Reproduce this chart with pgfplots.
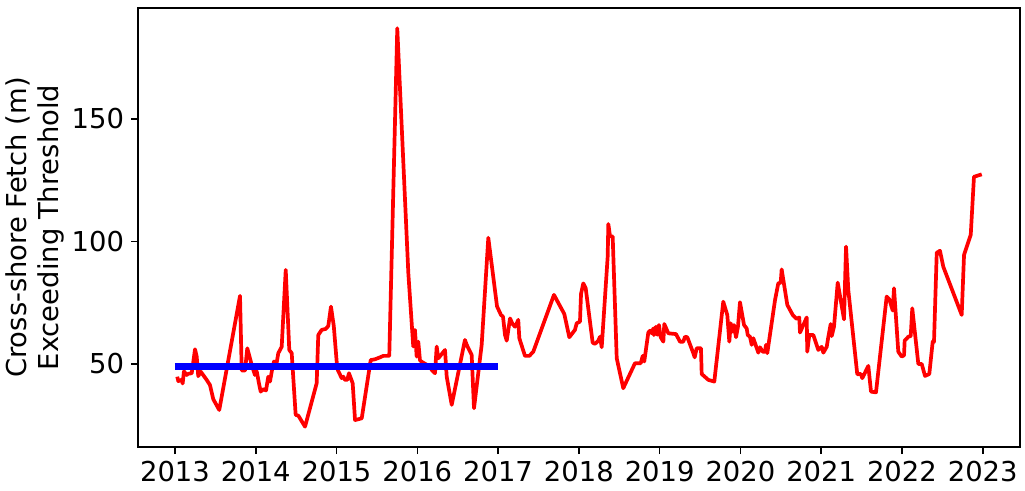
\documentclass[border=0pt]{standalone}
\usepackage{fontspec}
\setmainfont{DejaVu Sans}
\usepackage{pgfplots}
\pgfplotsset{compat=1.18}
\begin{document}
\begin{tikzpicture}
\begin{axis}[
  name=ax,
  at={(0,0)}, anchor=south west,
  scale only axis,
  width=441pt, height=219.5pt,
  xmin=2012.542, xmax=2023.462,
  ymin=16.1, ymax=195.3,
  xtick={2013,2014,2015,2016,2017,2018,2019,2020,2021,2022,2023},
  ytick={50,100,150},
  /pgf/number format/1000 sep={},
  /pgf/number format/assume math mode=true,
  tick label style={font=\fontsize{13.7}{16.4}\selectfont},
  label style={font=\fontsize{13.7}{15.8}\selectfont},
  tick align=outside,
  major tick length=3.5pt,
  tick style={black, line width=0.8pt},
  axis line style={line width=0.8pt},
  xtick pos=bottom, ytick pos=left,
  ylabel={Cross-shore Fetch (m)\\Exceeding Threshold},
  ylabel style={align=center, at={(axis description cs:-0.117,0.5)}, anchor=center},
]
\addplot[red, line width=1.85pt, line join=round, mark=none] coordinates {
(2013.028,44.8) (2013.041,43) (2013.083,43.5) (2013.095,42) (2013.111,47) (2013.145,45.5)
(2013.165,46) (2013.207,46.2) (2013.248,56) (2013.269,53) (2013.288,45) (2013.318,46.9)
(2013.392,43.5) (2013.433,41.4) (2013.474,35.6) (2013.548,31.2) (2013.805,77.8) (2013.826,47.3)
(2013.867,47.3) (2013.895,56.4) (2013.950,49.6) (2013.990,45.5) (2014.012,47) (2014.040,42)
(2014.061,38.7) (2014.093,39.7) (2014.127,39.2) (2014.155,44.8) (2014.176,42.8) (2014.205,48.2)
(2014.226,51) (2014.259,50.5) (2014.279,54.4) (2014.321,57) (2014.371,88.4) (2014.415,55.7)
(2014.445,54.4) (2014.494,29.2) (2014.527,28.9) (2014.610,24.4) (2014.754,42.1) (2014.774,61.8)
(2014.816,63.9) (2014.866,64.3) (2014.898,65.5) (2014.931,73.4) (2014.966,65.5) (2015.009,48)
(2015.064,44.2) (2015.084,44.8) (2015.105,43.5) (2015.133,43.5) (2015.154,46.2) (2015.200,42.1)
(2015.229,27.1) (2015.312,27.8) (2015.423,51.6) (2015.476,51.9) (2015.538,52.7) (2015.579,53.3)
(2015.653,53.3) (2015.752,187) (2015.889,87) (2015.950,57.1) (2015.971,63.9) (2015.992,53)
(2016.012,59.1) (2016.033,51.5) (2016.054,50.9) (2016.157,48.9) (2016.178,47.6) (2016.219,46.2)
(2016.240,57.1) (2016.260,52.3) (2016.343,55.7) (2016.364,44.8) (2016.426,33.3) (2016.590,59.8)
(2016.612,57.8) (2016.673,53.7) (2016.702,31.9) (2016.797,57.8) (2016.879,101.5) (2016.987,73.5)
(2017.036,70) (2017.061,69.3) (2017.086,61.8) (2017.107,59.5) (2017.148,68.6) (2017.181,66.2)
(2017.210,65.2) (2017.231,66.6) (2017.250,68) (2017.263,60.5) (2017.333,53.3) (2017.387,53.3)
(2017.436,55) (2017.692,78.2) (2017.820,70.4) (2017.882,60.9) (2017.952,63.9) (2017.973,66.6)
(2018.014,67.3) (2018.027,78.6) (2018.055,82.9) (2018.085,80.9) (2018.171,58.7) (2018.200,58.2)
(2018.241,59.5) (2018.262,61.1) (2018.283,56.8) (2018.357,93.8) (2018.365,107.1) (2018.386,102.2)
(2018.419,102) (2018.469,52.3) (2018.550,40.1) (2018.695,50.3) (2018.766,50.3) (2018.791,53.3)
(2018.810,51) (2018.860,62.8) (2018.881,63.6) (2018.902,62.5) (2018.922,64.5) (2018.930,61.8)
(2018.955,65.2) (2018.971,61.9) (2018.992,65.9) (2019.013,60.9) (2019.046,59.1) (2019.058,66.3)
(2019.108,62.5) (2019.203,62.2) (2019.252,59.1) (2019.293,59.1) (2019.314,61.1) (2019.343,60.9)
(2019.417,54.4) (2019.434,52.7) (2019.459,56.4) (2019.512,56.4) (2019.521,45.9) (2019.603,43.5)
(2019.677,42.8) (2019.788,75.4) (2019.838,70) (2019.863,59.1) (2019.880,66.6) (2019.905,63.2)
(2019.921,65.9) (2019.946,60.9) (2019.970,65.2) (2019.995,75.2) (2020.045,65.9) (2020.078,64.5)
(2020.091,61.8) (2020.119,61.1) (2020.140,57.8) (2020.160,60.5) (2020.222,54.6) (2020.243,56.8)
(2020.276,55) (2020.305,55) (2020.317,57.8) (2020.333,54.4) (2020.429,76.1) (2020.469,82.9)
(2020.499,83.2) (2020.511,88.6) (2020.581,74.1) (2020.648,70) (2020.697,68.4) (2020.729,69)
(2020.738,62.8) (2020.821,69) (2020.828,55) (2020.853,61.8) (2020.903,61.8) (2020.965,55.7)
(2021.007,57) (2021.027,54.6) (2021.069,57) (2021.088,60.9) (2021.118,66.3) (2021.131,61.4)
(2021.159,65.2) (2021.205,83.2) (2021.283,68.2) (2021.308,97.9) (2021.336,80.2) (2021.447,45.8)
(2021.490,45.9) (2021.509,44.2) (2021.584,49.2) (2021.617,38.7) (2021.679,38.4) (2021.811,77.5)
(2021.844,76.4) (2021.886,71.8) (2021.902,80.9) (2021.955,55) (2021.997,53) (2022.026,53.5)
(2022.034,59.5) (2022.079,61.1) (2022.109,61.4) (2022.128,72.7) (2022.203,50) (2022.245,50)
(2022.286,45.1) (2022.339,45.9) (2022.381,59.1) (2022.397,59) (2022.431,95.4) (2022.471,96.2)
(2022.512,89.7) (2022.740,70) (2022.769,94.5) (2022.852,102.7) (2022.892,126.4) (2022.988,127.4)
};
\addplot[blue, line width=3.8pt, line cap=butt, mark=none] coordinates {(2013,49) (2017,49)};
\end{axis}
\pgfresetboundingbox
\path[use as bounding box] (ax.south west) ++(-69pt,-22pt) rectangle ([xshift=2.5pt,yshift=4pt]ax.north east);
\end{tikzpicture}
\end{document}
